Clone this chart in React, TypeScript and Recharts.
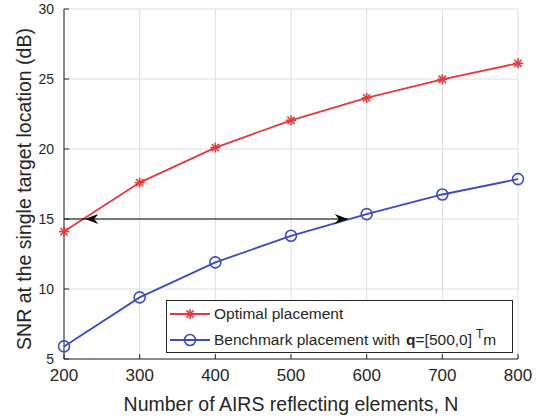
import React from "react";
import {
  CartesianGrid,
  Line,
  LineChart,
  ReferenceDot,
  ReferenceLine,
  XAxis,
  YAxis,
} from "recharts";

const elements = [200, 300, 400, 500, 600, 700, 800];
const optimalSnr = [14.1, 17.6, 20.1, 22.05, 23.65, 24.98, 26.12];
const benchmarkSnr = [5.9, 9.4, 11.9, 13.8, 15.35, 16.75, 17.85];
const xTicks = [200, 300, 400, 500, 600, 700, 800];
const yTicks = [5, 10, 15, 20, 25, 30];

// the double arrow between the two curves at 15 dB
const gapLevel = 15;
const gapStart = 200;
const gapLeftTip = 228;
const gapRightTip = 575;

const RED = "#e8383d";
const BLUE = "#3b4cc0";
const INK = "#262626";
const FONT = "'Liberation Sans', Arial, sans-serif";

const data = elements.map((n, i) => ({
  n,
  optimal: optimalSnr[i],
  benchmark: benchmarkSnr[i],
}));

function StarDot(props: any) {
  const { cx, cy } = props;
  if (cx == null || cy == null) return <g />;
  const r = 5;
  const d = r * 0.72;
  return (
    <g stroke={RED} strokeWidth={1.6}>
      <line x1={cx - r} y1={cy} x2={cx + r} y2={cy} />
      <line x1={cx} y1={cy - r} x2={cx} y2={cy + r} />
      <line x1={cx - d} y1={cy - d} x2={cx + d} y2={cy + d} />
      <line x1={cx - d} y1={cy + d} x2={cx + d} y2={cy - d} />
    </g>
  );
}

function CircleDot(props: any) {
  const { cx, cy } = props;
  if (cx == null || cy == null) return <g />;
  return <circle cx={cx} cy={cy} r={5.5} fill="none" stroke={BLUE} strokeWidth={1.6} />;
}

function arrowHead(dir: number) {
  return (props: any) => {
    const { cx, cy } = props;
    // dir = -1 points left, 1 points right
    const back = cx - dir * 13;
    const notch = cx - dir * 9;
    return (
      <polygon
        points={`${cx},${cy} ${back},${cy - 5} ${notch},${cy} ${back},${cy + 5}`}
        fill="#000"
      />
    );
  };
}

function Legend() {
  return (
    <div
      style={{
        position: "absolute",
        left: 166,
        top: 300,
        width: 347,
        height: 53,
        boxSizing: "border-box",
        border: `1px solid ${INK}`,
        background: "#fff",
      }}
    >
      <svg width={345} height={51} style={{ display: "block" }}>
        <g fontFamily={FONT} fontSize={15.5} fill={INK}>
          <line x1={3} y1={13} x2={43} y2={13} stroke={RED} strokeWidth={1.8} />
          <StarDot cx={23} cy={13} />
          <text x={47} y={18}>Optimal placement</text>
          <line x1={3} y1={39} x2={43} y2={39} stroke={BLUE} strokeWidth={1.8} />
          <CircleDot cx={23} cy={39} />
          <text x={47} y={44}>
            Benchmark placement with
            <tspan dx={6} fontWeight="bold">q</tspan>
            <tspan>=[500,0]</tspan>
            <tspan dx={4} dy={-7} fontSize={12}>T</tspan>
            <tspan dy={7}>m</tspan>
          </text>
        </g>
      </svg>
    </div>
  );
}

export default function App() {
  const tickStyle = { fontFamily: FONT, fill: INK };
  return (
    <div style={{ position: "absolute", left: 0, top: 0, width: 540, height: 419, background: "#fff" }}>
      <LineChart
        width={540}
        height={419}
        data={data}
        margin={{ top: 9, right: 22, left: 0, bottom: 0 }}
      >
        <CartesianGrid stroke="#dedede" strokeWidth={1} />
        <XAxis
          dataKey="n"
          type="number"
          domain={[200, 800]}
          ticks={xTicks}
          height={60}
          stroke={INK}
          tickSize={-5}
          tickMargin={15}
          tick={{ ...tickStyle, fontSize: 17 }}
          label={({ viewBox }: any) => (
            <text
              x={viewBox.x + viewBox.width / 2}
              y={411}
              textAnchor="middle"
              fontFamily={FONT}
              fontSize={19.5}
              fill={INK}
            >
              Number of AIRS reflecting elements, N
            </text>
          )}
        />
        <XAxis
          xAxisId="top"
          orientation="top"
          dataKey="n"
          type="number"
          domain={[200, 800]}
          ticks={xTicks}
          height={0}
          stroke={INK}
          tickSize={-5}
          tick={false}
        />
        <YAxis
          type="number"
          domain={[5, 30]}
          ticks={yTicks}
          width={64}
          stroke={INK}
          tickSize={-5}
          tickMargin={15}
          tick={{ ...tickStyle, fontSize: 14 }}
          label={() => (
            <text
              transform="translate(31,189) rotate(-90)"
              textAnchor="middle"
              fontFamily={FONT}
              fontSize={19.5}
              fill={INK}
            >
              SNR at the single target location (dB)
            </text>
          )}
        />
        <YAxis
          yAxisId="right"
          orientation="right"
          type="number"
          domain={[5, 30]}
          ticks={yTicks}
          width={0}
          stroke={INK}
          tickSize={-5}
          tick={false}
        />
        <Line
          dataKey="optimal"
          stroke={RED}
          strokeWidth={1.8}
          dot={<StarDot />}
          activeDot={false}
          isAnimationActive={false}
        />
        <Line
          dataKey="benchmark"
          stroke={BLUE}
          strokeWidth={1.8}
          dot={<CircleDot />}
          activeDot={false}
          isAnimationActive={false}
        />
        <ReferenceLine
          segment={[
            { x: gapStart, y: gapLevel },
            { x: gapRightTip, y: gapLevel },
          ]}
          stroke="#000"
          strokeWidth={1}
        />
        <ReferenceDot x={gapLeftTip} y={gapLevel} shape={arrowHead(-1)} />
        <ReferenceDot x={gapRightTip} y={gapLevel} shape={arrowHead(1)} />
      </LineChart>
      <Legend />
    </div>
  );
}
